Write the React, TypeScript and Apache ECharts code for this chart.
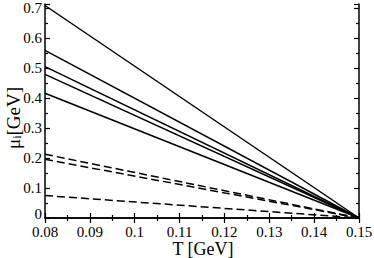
import React, { useEffect, useRef } from "react";
import * as echarts from "echarts";

const T_START = 0.08;
const T_END = 0.15;
const solidStart = [0.71, 0.56, 0.506, 0.48, 0.417];
const dashedStart = [0.213, 0.196, 0.075];
const endValue = 0;

const FONT = "Liberation Serif";

function isMajor(v: number, step: number) {
  return Math.abs(v / step - Math.round(v / step)) < 1e-6;
}

export default function App() {
  const ref = useRef<HTMLDivElement>(null);
  useEffect(() => {
    if (!ref.current) return;
    const chart = echarts.init(ref.current, null, { renderer: "svg" });
    const mkLine = (v: number, dashed: boolean) => ({
      type: "line",
      data: [
        [T_START, v],
        [T_END, endValue],
      ],
      symbol: "none",
      silent: true,
      lineStyle: {
        color: "#000",
        width: 1.5,
        type: dashed ? [8, 4] : "solid",
      },
    });
    const axisCommon = {
      axisLine: { show: true, lineStyle: { color: "#000", width: 1.5 } },
      axisTick: { show: true, inside: true, length: 5, lineStyle: { color: "#000", width: 1.2 } },
      minorTick: { show: true, splitNumber: 2, length: 3, lineStyle: { color: "#000", width: 1.2 } },
      splitLine: { show: false },
    };
    chart.setOption({
      animation: false,
      backgroundColor: "#fff",
      textStyle: { fontFamily: FONT },
      grid: { left: 45, right: 15, top: 4, bottom: 40, outerBoundsMode: "none", containLabel: false },
      xAxis: [
        {
          type: "value",
          min: 0.08,
          max: 0.15,
          interval: 0.01,
          ...axisCommon,
          axisLabel: {
            color: "#000",
            fontFamily: FONT,
            fontSize: 15,
            margin: 6,
            formatter: (v: number) => String(parseFloat(v.toFixed(3))),
          },
        },
        {
          type: "value",
          position: "top",
          min: 0.08,
          max: 0.15,
          interval: 0.01,
          ...axisCommon,
          axisLabel: { show: false },
        },
      ],
      yAxis: [
        {
          type: "value",
          min: 0,
          max: 0.715,
          interval: 0.1,
          ...axisCommon,
          axisLabel: {
            color: "#000",
            fontFamily: FONT,
            fontSize: 15,
            margin: 3,
            verticalAlign: "middle",
            showMaxLabel: false,
            formatter: (v: number) => {
              if (!isMajor(v, 0.1)) return "";
              if (Math.abs(v) < 1e-9) return "{z|0}";
              return String(parseFloat(v.toFixed(2)));
            },
            rich: {
              z: { fontFamily: FONT, fontSize: 15, color: "#000", padding: [0, 0, 8, 0] },
            },
          },
        },
        {
          type: "value",
          position: "right",
          min: 0,
          max: 0.715,
          interval: 0.1,
          ...axisCommon,
          axisLabel: { show: false },
        },
      ],
      graphic: [
        {
          type: "text",
          x: 203,
          y: 249,
          style: {
            text: "T [GeV]",
            fontFamily: FONT,
            fontSize: 18,
            fill: "#000",
            align: "center",
            verticalAlign: "middle",
          },
        },
        {
          type: "text",
          x: 13,
          y: 118,
          rotation: Math.PI / 2,
          style: {
            text: "{m|μ}{s|i}{m|[GeV]}",
            fill: "#000",
            align: "center",
            verticalAlign: "middle",
            rich: {
              m: { fontFamily: FONT, fontSize: 19, fill: "#000", lineHeight: 20, verticalAlign: "bottom" },
              s: { fontFamily: FONT, fontSize: 12, fill: "#000", lineHeight: 20, verticalAlign: "bottom" },
            },
          },
        },
      ],
      series: [
        ...solidStart.map((v) => mkLine(v, false)),
        ...dashedStart.map((v) => mkLine(v, true)),
      ],
    });
    return () => chart.dispose();
  }, []);
  return <div ref={ref} style={{ width: 374, height: 258, position: "absolute", left: 0, top: 0 }} />;
}
